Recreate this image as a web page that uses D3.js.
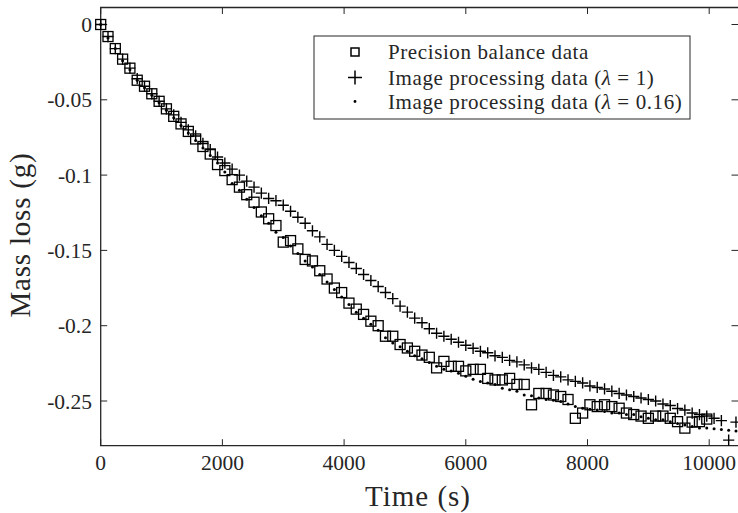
<!DOCTYPE html>
<html>
<head>
<meta charset="utf-8">
<script src="https://cdn.jsdelivr.net/npm/d3@7"></script>
<style>
  html, body { margin: 0; padding: 0; background: #fff; }
  svg { display: block; }
  text { font-family: "Liberation Serif", "Times New Roman", serif; fill: #262626; }
</style>
</head>
<body>
<svg id="chart" width="738" height="513"></svg>
<script>
// ---- data ----
const times = [0,120,240,360,480,600,720,840,960,1080,1200,1320,1440,1560,1680,1800,1920,2040,2160,2280,2400,2520,2640,2760,2880,3000,3120,3240,3360,3480,3600,3720,3840,3960,4080,4200,4320,4440,4560,4680,4800,4920,5040,5160,5280,5400,5520,5640,5760,5880,6000,6120,6240,6360,6480,6600,6720,6840,6960,7080,7200,7320,7440,7560,7680,7800,7920,8040,8160,8280,8400,8520,8640,8760,8880,9000,9120,9240,9360,9480,9600,9720,9840,9960,10080,10200,10320,10440];

// Precision balance data (squares), up to t = 9960
const balance = [0,-0.008,-0.016,-0.023,-0.029,-0.037,-0.041,-0.046,-0.051,-0.056,-0.061,-0.066,-0.071,-0.076,-0.081,-0.086,-0.093,-0.097,-0.103,-0.108,-0.113,-0.118,-0.1245,-0.129,-0.1335,-0.1445,-0.1435,-0.149,-0.156,-0.157,-0.1635,-0.169,-0.175,-0.178,-0.185,-0.189,-0.1925,-0.197,-0.200,-0.207,-0.207,-0.2125,-0.2148,-0.217,-0.2195,-0.221,-0.228,-0.2237,-0.227,-0.227,-0.230,-0.229,-0.229,-0.235,-0.236,-0.236,-0.235,-0.239,-0.239,-0.2525,-0.245,-0.245,-0.246,-0.247,-0.249,-0.2615,-0.258,-0.2525,-0.2537,-0.2525,-0.2537,-0.2548,-0.258,-0.259,-0.260,-0.2615,-0.260,-0.260,-0.2615,-0.2637,-0.268,-0.264,-0.2637,-0.262];

// Image processing data (lambda = 1), pluses
const imgLambda1 = [0,-0.008,-0.016,-0.023,-0.029,-0.036,-0.041,-0.046,-0.051,-0.056,-0.060,-0.065,-0.070,-0.074,-0.079,-0.083,-0.088,-0.092,-0.096,-0.100,-0.104,-0.108,-0.112,-0.1155,-0.117,-0.120,-0.124,-0.128,-0.132,-0.137,-0.141,-0.146,-0.150,-0.154,-0.158,-0.162,-0.166,-0.170,-0.174,-0.178,-0.182,-0.187,-0.191,-0.195,-0.198,-0.202,-0.205,-0.207,-0.209,-0.211,-0.213,-0.215,-0.217,-0.218,-0.220,-0.221,-0.223,-0.224,-0.226,-0.228,-0.229,-0.231,-0.233,-0.234,-0.236,-0.237,-0.238,-0.240,-0.241,-0.242,-0.2435,-0.245,-0.246,-0.247,-0.248,-0.249,-0.250,-0.252,-0.253,-0.255,-0.256,-0.258,-0.259,-0.260,-0.2615,-0.263,-0.276,-0.264];

// Image processing data (lambda = 0.16), dots
const imgLambda016 = [0,-0.009,-0.016,-0.024,-0.030,-0.037,-0.042,-0.047,-0.052,-0.057,-0.062,-0.067,-0.072,-0.077,-0.082,-0.087,-0.092,-0.098,-0.1055,-0.110,-0.116,-0.1215,-0.127,-0.132,-0.138,-0.1415,-0.147,-0.152,-0.157,-0.161,-0.166,-0.171,-0.176,-0.181,-0.186,-0.191,-0.195,-0.199,-0.203,-0.208,-0.2115,-0.214,-0.217,-0.220,-0.222,-0.2245,-0.227,-0.229,-0.230,-0.2315,-0.2335,-0.2355,-0.237,-0.238,-0.239,-0.2415,-0.2425,-0.2435,-0.246,-0.2465,-0.248,-0.249,-0.2495,-0.2503,-0.252,-0.2537,-0.2548,-0.2555,-0.256,-0.257,-0.258,-0.258,-0.259,-0.259,-0.2605,-0.2615,-0.2625,-0.2625,-0.2637,-0.265,-0.266,-0.267,-0.268,-0.268,-0.2685,-0.269,-0.2695,-0.270];

const xTicks = [0,2000,4000,6000,8000,10000];
const yTicks = [0,-0.05,-0.1,-0.15,-0.2,-0.25];
const yTickLabels = ["0","-0.05","-0.1","-0.15","-0.2","-0.25"];
const legendLabels = ["Precision balance data", "Image processing data (", "Image processing data ("];
const legendTails = ["", " = 1)", " = 0.16)"];

// ---- layout ----
const svg = d3.select("#chart");
const L = 100.7, R = 739.5, T = 7.5, B = 445.7;
const x = d3.scaleLinear().domain([0, 10000]).range([L, 709.2]);
const y = d3.scaleLinear().domain([-0.25, 0]).range([401, 24.5]);
const axisColor = "#262626";
const tickLen = 6.5;

// frame
svg.append("path")
  .attr("d", `M${R},${T}H${L}V${B}H${R}`)
  .attr("fill", "none").attr("stroke", axisColor).attr("stroke-width", 1.3);

// x ticks (bottom & top, inward)
const gx = svg.append("g");
xTicks.forEach(v => {
  const px = x(v);
  gx.append("line").attr("x1", px).attr("x2", px).attr("y1", B).attr("y2", B - tickLen)
    .attr("stroke", axisColor).attr("stroke-width", 1);
  gx.append("line").attr("x1", px).attr("x2", px).attr("y1", T).attr("y2", T + tickLen)
    .attr("stroke", axisColor).attr("stroke-width", 1);
  gx.append("text").attr("x", px).attr("y", 470).attr("text-anchor", "middle")
    .attr("font-size", 21.5).text(d3.format("d")(v));
});

// y ticks (left & right, inward)
const gy = svg.append("g");
yTicks.forEach((v, i) => {
  const py = y(v);
  gy.append("line").attr("x1", L).attr("x2", L + tickLen).attr("y1", py).attr("y2", py)
    .attr("stroke", axisColor).attr("stroke-width", 1);
  gy.append("line").attr("x1", 738).attr("x2", 738 - tickLen).attr("y1", py).attr("y2", py)
    .attr("stroke", axisColor).attr("stroke-width", 1);
  gy.append("text").attr("x", 92).attr("y", py).attr("dy", "0.35em").attr("text-anchor", "end")
    .attr("font-size", 21.5).text(yTickLabels[i]);
});

// axis labels
svg.append("text").attr("x", 418).attr("y", 506).attr("text-anchor", "middle")
  .attr("font-size", 29).attr("letter-spacing", 1).text("Time (s)");
svg.append("text").attr("transform", "translate(30,235) rotate(-90)").attr("text-anchor", "middle")
  .attr("font-size", 29).attr("letter-spacing", 0.8).text("Mass loss (g)");

// markers
const sq = 10, pl = 5.6;
const gData = svg.append("g");
balance.forEach((v, i) => {
  gData.append("rect")
    .attr("x", x(times[i]) - sq / 2).attr("y", y(v) - sq / 2)
    .attr("width", sq).attr("height", sq)
    .attr("fill", "none").attr("stroke", "#000").attr("stroke-width", 1.3);
});
imgLambda1.forEach((v, i) => {
  const cx = x(times[i]), cy = y(v);
  gData.append("path")
    .attr("d", `M${cx - pl},${cy}H${cx + pl}M${cx},${cy - pl}V${cy + pl}`)
    .attr("stroke", "#000").attr("stroke-width", 1.4).attr("fill", "none");
});
imgLambda016.forEach((v, i) => {
  gData.append("circle").attr("cx", x(times[i])).attr("cy", y(v)).attr("r", 1.5).attr("fill", "#000");
});

// legend
const lg = svg.append("g");
lg.append("rect").attr("x", 314).attr("y", 36).attr("width", 376).attr("height", 83)
  .attr("fill", "#fff").attr("stroke", axisColor).attr("stroke-width", 1);
const rowsY = [52, 77.5, 101.5];
const mx = 355;
lg.append("rect").attr("x", mx - 4).attr("y", rowsY[0] - 4).attr("width", 8).attr("height", 8)
  .attr("fill", "none").attr("stroke", "#000").attr("stroke-width", 1.5);
lg.append("path").attr("d", `M${mx - 7},${rowsY[1]}H${mx + 7}M${mx},${rowsY[1] - 7}V${rowsY[1] + 7}`)
  .attr("stroke", "#000").attr("stroke-width", 1.5);
lg.append("circle").attr("cx", mx).attr("cy", rowsY[2]).attr("r", 1.4).attr("fill", "#000");
rowsY.forEach((ry, i) => {
  const t = lg.append("text").attr("x", 388).attr("y", ry).attr("dy", "0.35em")
    .attr("font-size", 21).attr("letter-spacing", 0.6);
  t.append("tspan").text(legendLabels[i]);
  if (i > 0) {
    t.append("tspan").attr("font-style", "italic").text("λ");
    t.append("tspan").text(legendTails[i]);
  }
});
</script>
</body>
</html>
